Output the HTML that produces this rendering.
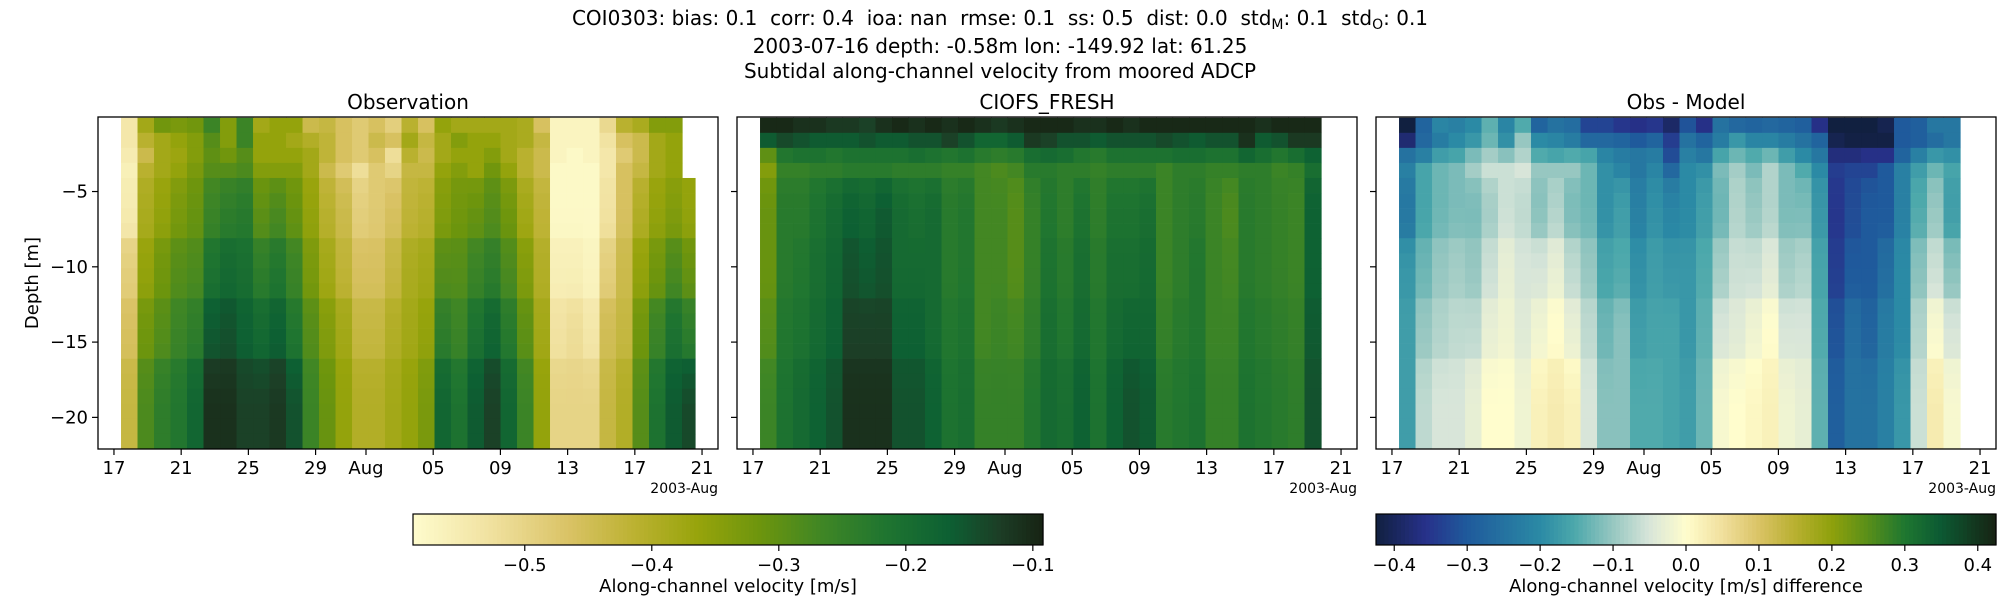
<!DOCTYPE html>
<html><head><meta charset="utf-8"><style>
html,body{margin:0;padding:0;background:#fff;}
svg{display:block;font-family:"DejaVu Sans","Liberation Sans",sans-serif;}
.pre{white-space:pre;}
</style></head><body>
<svg id="fig" width="2000" height="600" viewBox="0 0 2000 600" xmlns="http://www.w3.org/2000/svg">
<text class="pre" x="1000" y="25" font-size="20" text-anchor="middle">COI0303: bias: 0.1  corr: 0.4  ioa: nan  rmse: 0.1  ss: 0.5  dist: 0.0  std<tspan font-size="14" dy="4">M</tspan><tspan dy="-4">: 0.1  std</tspan><tspan font-size="14" dy="4">O</tspan><tspan dy="-4">: 0.1</tspan></text>
<text x="1000" y="53" font-size="20" text-anchor="middle">2003-07-16 depth: -0.58m lon: -149.92 lat: 61.25</text>
<text x="1000" y="78" font-size="20" text-anchor="middle">Subtidal along-channel velocity from moored ADCP</text>
<g id="plots"></g>
</svg>
<script>
// depth bin edges (row indices of 1 m rows)
const binEdges = [0,1,2,3,4,8,12,16,22];
// observed velocity per day column, bins top->bottom
const obs = [
[-0.54,-0.54,-0.55,-0.56,-0.55,-0.49,-0.46,-0.43],
[-0.38,-0.41,-0.44,-0.41,-0.39,-0.36,-0.32,-0.28],
[-0.32,-0.38,-0.38,-0.38,-0.36,-0.32,-0.29,-0.24],
[-0.33,-0.36,-0.37,-0.36,-0.33,-0.29,-0.26,-0.22],
[-0.32,-0.34,-0.34,-0.33,-0.31,-0.28,-0.24,-0.18],
[-0.26,-0.29,-0.30,-0.29,-0.26,-0.21,-0.16,-0.11],
[-0.34,-0.34,-0.32,-0.29,-0.24,-0.19,-0.15,-0.11],
[-0.26,-0.26,-0.29,-0.28,-0.23,-0.20,-0.17,-0.13],
[-0.38,-0.36,-0.36,-0.34,-0.30,-0.24,-0.19,-0.13],
[-0.36,-0.36,-0.36,-0.34,-0.28,-0.22,-0.17,-0.12],
[-0.36,-0.38,-0.36,-0.34,-0.31,-0.26,-0.22,-0.15],
[-0.44,-0.40,-0.38,-0.38,-0.36,-0.33,-0.29,-0.26],
[-0.43,-0.42,-0.42,-0.44,-0.41,-0.38,-0.34,-0.31],
[-0.46,-0.46,-0.46,-0.48,-0.44,-0.42,-0.38,-0.36],
[-0.48,-0.48,-0.48,-0.52,-0.49,-0.46,-0.43,-0.40],
[-0.46,-0.44,-0.46,-0.48,-0.48,-0.46,-0.43,-0.40],
[-0.49,-0.46,-0.52,-0.50,-0.46,-0.43,-0.40,-0.38],
[-0.41,-0.38,-0.41,-0.43,-0.42,-0.39,-0.38,-0.36],
[-0.46,-0.43,-0.44,-0.43,-0.41,-0.38,-0.36,-0.33],
[-0.36,-0.38,-0.38,-0.36,-0.34,-0.29,-0.24,-0.18],
[-0.38,-0.34,-0.36,-0.34,-0.32,-0.29,-0.26,-0.21],
[-0.38,-0.36,-0.36,-0.36,-0.31,-0.26,-0.21,-0.16],
[-0.38,-0.36,-0.34,-0.32,-0.29,-0.24,-0.18,-0.13],
[-0.38,-0.38,-0.38,-0.36,-0.32,-0.28,-0.23,-0.18],
[-0.39,-0.39,-0.41,-0.41,-0.38,-0.34,-0.30,-0.26],
[-0.46,-0.43,-0.44,-0.44,-0.42,-0.40,-0.38,-0.36],
[-0.57,-0.57,-0.57,-0.58,-0.58,-0.56,-0.53,-0.50],
[-0.57,-0.57,-0.58,-0.58,-0.58,-0.56,-0.52,-0.50],
[-0.57,-0.57,-0.57,-0.58,-0.58,-0.57,-0.54,-0.50],
[-0.51,-0.53,-0.54,-0.54,-0.53,-0.49,-0.45,-0.43],
[-0.41,-0.46,-0.48,-0.46,-0.46,-0.44,-0.43,-0.40],
[-0.39,-0.44,-0.44,-0.43,-0.40,-0.36,-0.32,-0.29],
[-0.34,-0.38,-0.38,-0.38,-0.36,-0.32,-0.26,-0.21],
[-0.34,-0.36,-0.36,-0.36,-0.34,-0.28,-0.21,-0.16],
[null,null,null,null,-0.36,-0.31,-0.24,-0.14]
];
// model velocity per day column
const model = [
[-0.10,-0.16,-0.30,-0.34,-0.31,-0.31,-0.29,-0.26],
[-0.10,-0.14,-0.22,-0.25,-0.23,-0.23,-0.22,-0.21],
[-0.11,-0.15,-0.21,-0.25,-0.23,-0.22,-0.21,-0.19],
[-0.11,-0.16,-0.21,-0.24,-0.21,-0.20,-0.19,-0.17],
[-0.12,-0.16,-0.22,-0.24,-0.19,-0.18,-0.17,-0.15],
[-0.12,-0.16,-0.21,-0.23,-0.17,-0.15,-0.13,-0.11],
[-0.13,-0.15,-0.21,-0.23,-0.18,-0.16,-0.13,-0.11],
[-0.11,-0.16,-0.21,-0.23,-0.16,-0.15,-0.13,-0.11],
[-0.10,-0.16,-0.21,-0.24,-0.19,-0.19,-0.17,-0.15],
[-0.11,-0.15,-0.20,-0.24,-0.20,-0.19,-0.17,-0.15],
[-0.10,-0.15,-0.21,-0.24,-0.19,-0.19,-0.19,-0.17],
[-0.11,-0.13,-0.22,-0.25,-0.23,-0.23,-0.22,-0.21],
[-0.10,-0.15,-0.21,-0.25,-0.22,-0.22,-0.21,-0.20],
[-0.11,-0.18,-0.23,-0.27,-0.27,-0.27,-0.27,-0.25],
[-0.12,-0.18,-0.24,-0.28,-0.27,-0.27,-0.26,-0.25],
[-0.11,-0.16,-0.23,-0.27,-0.29,-0.29,-0.27,-0.25],
[-0.10,-0.12,-0.20,-0.23,-0.25,-0.25,-0.24,-0.22],
[-0.10,-0.13,-0.19,-0.23,-0.22,-0.21,-0.20,-0.19],
[-0.10,-0.15,-0.20,-0.24,-0.24,-0.23,-0.22,-0.20],
[-0.11,-0.15,-0.22,-0.24,-0.21,-0.20,-0.19,-0.17],
[-0.11,-0.16,-0.23,-0.25,-0.24,-0.23,-0.22,-0.21],
[-0.10,-0.15,-0.21,-0.24,-0.21,-0.20,-0.19,-0.17],
[-0.11,-0.15,-0.21,-0.24,-0.21,-0.20,-0.18,-0.15],
[-0.10,-0.15,-0.21,-0.24,-0.20,-0.19,-0.18,-0.16],
[-0.10,-0.14,-0.21,-0.26,-0.26,-0.26,-0.25,-0.23],
[-0.10,-0.15,-0.20,-0.24,-0.24,-0.24,-0.23,-0.22],
[-0.10,-0.16,-0.20,-0.24,-0.23,-0.22,-0.22,-0.21],
[-0.10,-0.15,-0.21,-0.25,-0.26,-0.26,-0.26,-0.25],
[-0.10,-0.15,-0.21,-0.25,-0.28,-0.27,-0.26,-0.25],
[-0.10,-0.11,-0.18,-0.24,-0.23,-0.23,-0.22,-0.21],
[-0.11,-0.16,-0.20,-0.24,-0.24,-0.24,-0.23,-0.22],
[-0.10,-0.15,-0.22,-0.26,-0.25,-0.25,-0.24,-0.23],
[-0.10,-0.12,-0.20,-0.25,-0.26,-0.26,-0.25,-0.24],
[-0.10,-0.12,-0.17,-0.20,-0.17,-0.17,-0.16,-0.15],
[null,null,null,null,null,null,null,null]
];
const timeStart = 17.42;   // days since Jul 0
const timeStep = 0.982;    // days per column
const timeEndLast = 51.58;
const xTickDays = [17,21,25,29,32,36,40,44,48,52];
const xTickLabels = ["17","21","25","29","Aug","05","09","13","17","21"];
const yTickValues = [-5,-10,-15,-20];
const obsCbarTicks = [-0.5,-0.4,-0.3,-0.2,-0.1];
const diffCbarTicks = [-0.4,-0.3,-0.2,-0.1,0.0,0.1,0.2,0.3,0.4];

const SPEED=[[0,'#fefccd'],[0.12,'#f1e2a1'],[0.25,'#d9c264'],[0.35,'#bcb232'],[0.45,'#98a40c'],[0.55,'#6d950d'],[0.65,'#3f8625'],[0.75,'#1f7530'],[0.85,'#0d6033'],[0.93,'#1c3e26'],[1,'#172313']];
const DELTA=[[0,'#112040'],[0.08,'#27318a'],[0.147,'#1f5a9c'],[0.265,'#2b8aa5'],[0.32,'#4ca8ab'],[0.38,'#94c6c0'],[0.44,'#d7e5d9'],[0.5,'#fffdcd'],[0.56,'#f0df9c'],[0.62,'#d9c263'],[0.676,'#b8b030'],[0.735,'#8fa10c'],[0.79,'#5c9018'],[0.853,'#1e7730'],[0.91,'#0c5a33'],[1,'#172313']];
function hex(c){return [1,3,5].map(i=>parseInt(c.substr(i,2),16));}
function cmap(stops,t){t=Math.max(0,Math.min(1,t));for(let i=1;i<stops.length;i++){if(t<=stops[i][0]){const a=stops[i-1],b=stops[i];const f=(t-a[0])/(b[0]-a[0]);const A=hex(a[1]),B=hex(b[1]);return 'rgb('+A.map((v,k)=>Math.round(v+(B[k]-v)*f)).join(',')+')';}}return stops[stops.length-1][1];}
const NS='http://www.w3.org/2000/svg';
const root=document.getElementById('plots');
function el(tag,attrs,parent){const e=document.createElementNS(NS,tag);for(const k in attrs)e.setAttribute(k,attrs[k]);(parent||root).appendChild(e);return e;}

const PW=620, PT=117, PH=332, PB=PT+PH;
const xMin=16.05, xMax=52.95;
const dTop=-0.05, dBot=-22.1;
const panelsX=[98,737,1376];
const NROWS=binEdges[binEdges.length-1];
function xs(px,day){return px+(day-xMin)/(xMax-xMin)*PW;}
function ys(d){return PT+(dTop-d)/(dTop-dBot)*PH;}
function rowDepth(r){return -0.1-r;}
function binOfRow(r){for(let b=0;b<binEdges.length-1;b++){if(r<binEdges[b+1])return b;}return binEdges.length-2;}
function binCenter(b){return (binEdges[b]+binEdges[b+1])/2;}
// smooth display value for a 1 m row from bin values
function rowValue(col,r){
  const b=binOfRow(r);
  if(col[b]===null)return null;
  const rc=r+0.5, c=binCenter(b);
  let nb = rc<c ? b-1 : b+1;
  if(nb<0||nb>=col.length||col[nb]===null)return col[b];
  const c2=binCenter(nb);
  const f=Math.min(1,Math.abs(rc-c)/Math.abs(c2-c));
  return col[b]+(col[nb]-col[b])*f*0.5;
}

const diff = obs.map((c,i)=>c.map((v,j)=>(v===null||model[i][j]===null)?null:+(v-model[i][j]).toFixed(3)));
const panels=[
 {name:'observation',title:'Observation',data:obs,cm:SPEED,vmin:-0.588,vmax:-0.092},
 {name:'model',title:'CIOFS_FRESH',data:model,cm:SPEED,vmin:-0.588,vmax:-0.092},
 {name:'difference',title:'Obs - Model',data:diff,cm:DELTA,vmin:-0.425,vmax:0.425}
];
panels.forEach((p,pi)=>{
  const px=panelsX[pi];
  const g=el('g',{});
  
  
  const t=el('text',{x:px+PW/2,y:109,'font-size':20,'text-anchor':'middle'},g);
  t.textContent=p.title;
  
  
  const cells=el('g',{},g);
  
  
  p.data.forEach((col,i)=>{
    const t0=timeStart+i*timeStep;
    const t1=Math.min(t0+timeStep,timeEndLast);
    const x0=xs(px,t0), x1=xs(px,t1);
    for(let r=0;r<NROWS;r++){
      const v=rowValue(col,r);
      if(v===null)continue;
      const y0=ys(rowDepth(r)), y1=ys(rowDepth(r+1));
      const rc=el('rect',{x:x0.toFixed(2),y:y0.toFixed(2),width:(x1-x0+0.6).toFixed(2),height:(y1-y0+0.3).toFixed(2),fill:cmap(p.cm,(v-p.vmin)/(p.vmax-p.vmin))},cells);
      
      
    }
  });
  const fr=el('rect',{x:px,y:PT,width:PW,height:PH,fill:'none',stroke:'#000','stroke-width':1.3},g);
  
  
  xTickDays.forEach((d,k)=>{
    const x=xs(px,d);
    el('line',{x1:x,x2:x,y1:PB,y2:PB+6,stroke:'#000','stroke-width':1.2},g);
    const tl=el('text',{x:x,y:PB+25,'font-size':18,'text-anchor':'middle'},g);
    tl.textContent=xTickLabels[k];
    
    
  });
  const yr=el('text',{x:px+PW,y:PB+44,'font-size':14,'text-anchor':'end'},g);
  yr.textContent='2003-Aug';
  
  
  yTickValues.forEach(v=>{
    const y=ys(v);
    el('line',{x1:px-6,x2:px,y1:y,y2:y,stroke:'#000','stroke-width':1.2},g);
    if(pi===0){
      const yl=el('text',{x:px-10,y:y+6,'font-size':18,'text-anchor':'end'},g);
      yl.textContent='\u2212'+Math.abs(v);
      
      
    }
  });
});
const yt=el('text',{x:38,y:283,'font-size':18,'text-anchor':'middle',transform:'rotate(-90 38 283)'});
yt.textContent='Depth [m]';



function colorbar(name,x0,w,cm,vmin,vmax,ticks,label,fmt){
  const g=el('g',{});
  
  
  const y0=514,h=31,n=150;
  for(let i=0;i<n;i++){
    el('rect',{x:(x0+i*w/n).toFixed(2),y:y0,width:(w/n+0.6).toFixed(2),height:h,fill:cmap(cm,(i+0.5)/n)},g);
  }
  el('rect',{x:x0,y:y0,width:w,height:h,fill:'none',stroke:'#000','stroke-width':1.2},g);
  ticks.forEach(v=>{
    const x=x0+(v-vmin)/(vmax-vmin)*w;
    el('line',{x1:x,x2:x,y1:y0+h,y2:y0+h+6,stroke:'#000','stroke-width':1.2},g);
    const t=el('text',{x:x,y:y0+h+26,'font-size':18,'text-anchor':'middle'},g);
    t.textContent=fmt(v);
    
    
  });
  const l=el('text',{x:x0+w/2,y:592,'font-size':18,'text-anchor':'middle'},g);
  l.textContent=label;
  
  
}
const f1=v=>(v<0?'\u2212':'')+Math.abs(v).toFixed(1);
colorbar('velocity-colorbar',413,630,SPEED,-0.588,-0.092,obsCbarTicks,'Along-channel velocity [m/s]',f1);
colorbar('difference-colorbar',1376,620,DELTA,-0.425,0.425,diffCbarTicks,'Along-channel velocity [m/s] difference',f1);
</script>
</body></html>
